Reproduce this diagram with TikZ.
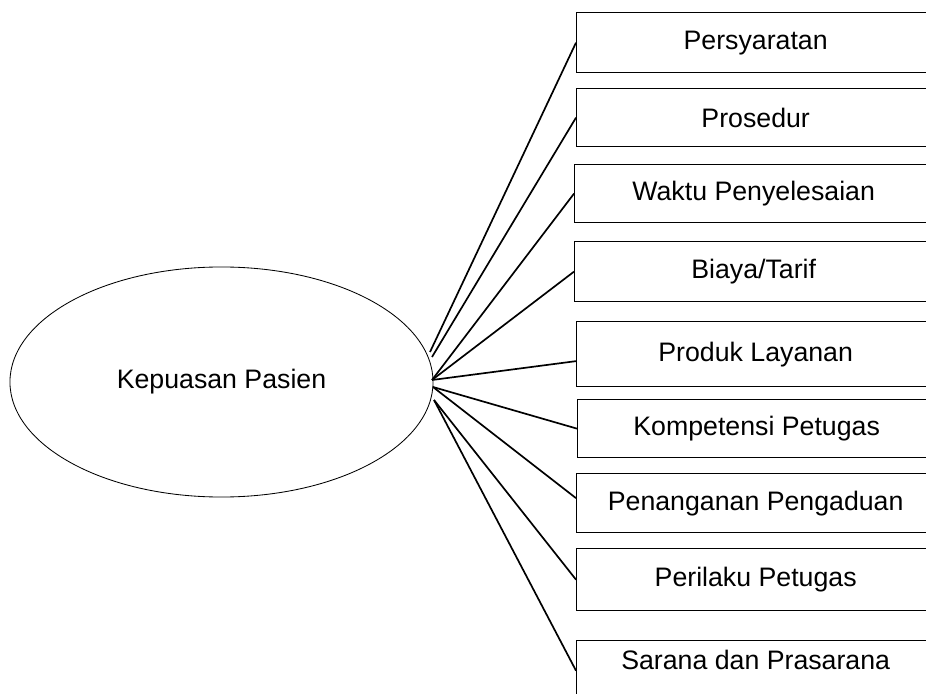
\documentclass[tikz,border=0pt]{standalone}
\usepackage{fontspec}
\setmainfont{Liberation Sans}
\usepackage{tikz}
\usetikzlibrary{shapes.geometric, positioning, calc}

\begin{document}
\begin{tikzpicture}[
        x=0.025cm, y=-0.025cm,
        font=\fontsize{19}{22}\selectfont,
        pusat/.style={ellipse, draw=black, line width=0.6pt, minimum width=10.575cm, minimum height=5.75cm, inner sep=0pt},
        aspek/.style={rectangle, draw=black, line width=0.9pt, minimum width=8.95cm, anchor=north west, inner sep=0pt},
        garis/.style={line width=1.2pt}
    ]
    \clip (0,0) rectangle (926,694);

    % 1. Khai báo các khối
    \node[pusat] (kepuasan) at (221.5,382) {Kepuasan Pasien};

    \node[aspek, minimum height=1.5cm] (syarat) at (576,12) {Persyaratan};
    \node[aspek, minimum height=1.45cm] (prosedur) at (576,88) {Prosedur};
    \node[aspek, minimum height=1.45cm] (waktu) at (574,164) {Waktu Penyelesaian};
    \node[aspek, minimum height=1.5cm] (biaya) at (574,241) {Biaya/Tarif};
    \node[aspek, minimum height=1.625cm] (produk) at (576,321) {Produk Layanan};
    \node[aspek, minimum height=1.45cm] (kompetensi) at (577,399) {Kompetensi Petugas};
    \node[aspek, minimum height=1.475cm] (pengaduan) at (576,473) {Penanganan Pengaduan};
    \node[aspek, minimum height=1.55cm] (perilaku) at (576,548) {Perilaku Petugas};
    \node[aspek, minimum height=1.6cm, text depth=0.65cm] (sarana) at (576,640) {Sarana dan Prasarana};

    % titik awal garis di tepi elips
    \coordinate (a1) at (430,352);
    \coordinate (a2) at (432,357);
    \coordinate (a3) at (432,380);
    \coordinate (a4) at (433,387);
    \coordinate (a5) at (434,400);

    % 2. Vẽ các đường nối
    \draw[garis] (a1) -- (syarat.west);
    \draw[garis] (a2) -- (prosedur.west);
    \draw[garis] (a3) -- (waktu.west);
    \draw[garis] (a3) -- (biaya.west);
    \draw[garis] (a3) -- ($(produk.west)+(0,7)$);
    \draw[garis] (a4) -- (kompetensi.west);
    \draw[garis] (a4) -- ($(pengaduan.west)+(0,-5)$);
    \draw[garis] (a5) -- (perilaku.west);
    \draw[garis] (a5) -- ($(sarana.west)+(0,-2)$);

    \end{tikzpicture}
\end{document}
